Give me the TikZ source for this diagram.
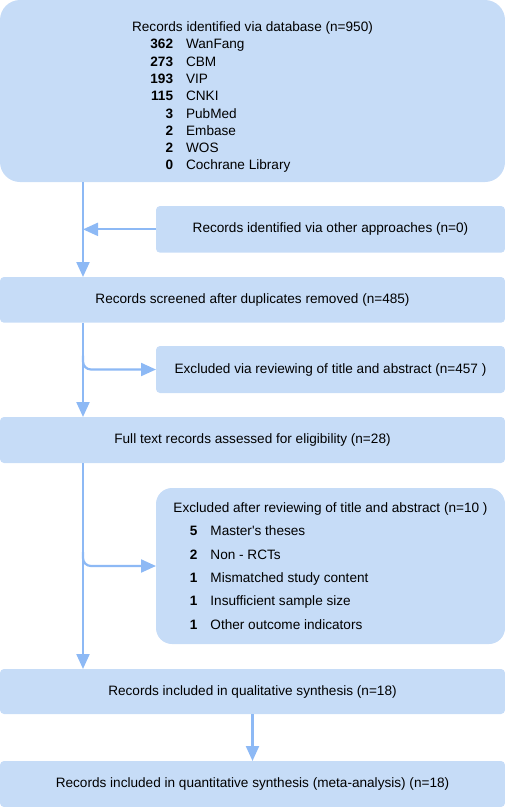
\documentclass[tikz,border=0pt]{standalone}
\usepackage{fontspec}
\setmainfont{Liberation Sans}
\usetikzlibrary{arrows.meta}
\definecolor{boxblue}{HTML}{C6DCF7}
\definecolor{flowblue}{HTML}{8DB9F5}
\newcommand{\cnt}[2]{\makebox[#1][r]{\textbf{#2}}\hspace{13pt}}
\begin{document}
\begin{tikzpicture}[x=1pt,y=-1pt,
    box/.style={fill=boxblue, rounded corners=4pt, inner sep=0pt, outer sep=0pt,
      anchor=north west, align=center, font={\fontsize{13.6}{17.3}\selectfont}},
    flow/.style={draw=flowblue, line width=2.2pt, -{Triangle[length=15pt,width=13pt]}}]
  \useasboundingbox (0,0) rectangle (505,807);
  \node[box, rounded corners=20pt, minimum width=505pt, minimum height=182pt, align=left] (db) at (0,0)
    {\rule{0pt}{22.3pt}Records identified via database (n=950)\\
     \cnt{41pt}{362}WanFang\\
     \cnt{41pt}{273}CBM\\
     \cnt{41pt}{193}VIP\\
     \cnt{41pt}{115}CNKI\\
     \cnt{41pt}{3}PubMed\\
     \cnt{41pt}{2}Embase\\
     \cnt{41pt}{2}WOS\\
     \cnt{41pt}{0}Cochrane Library};
  \node[box, minimum width=349pt, minimum height=46.7pt] (other) at (156,206)
    {Records identified via other approaches (n=0)};
  \node[box, minimum width=505pt, minimum height=45.7pt] (screened) at (0,277)
    {Records screened after duplicates removed (n=485)};
  \node[box, minimum width=349pt, minimum height=47pt] (excltitle) at (156,346)
    {Excluded via reviewing of title and abstract (n=457 )};
  \node[box, minimum width=505pt, minimum height=46pt] (fulltext) at (0,417)
    {Full text records assessed for eligibility (n=28)};
  \node[box, rounded corners=16pt, minimum width=349pt, minimum height=156pt, align=left,
      font={\fontsize{13.6}{23.3}\selectfont}] (exclfull) at (156,488)
    {Excluded after reviewing of title and abstract (n=10 )\\
     \cnt{24pt}{5}Master\textquotesingle s theses\\
     \cnt{24pt}{2}Non - RCTs\\
     \cnt{24pt}{1}Mismatched study content\\
     \cnt{24pt}{1}Insufficient sample size\\
     \cnt{24pt}{1}Other outcome indicators};
  \node[box, minimum width=505pt, minimum height=45pt] (qual) at (0,669)
    {Records included in qualitative synthesis (n=18)};
  \node[box, minimum width=505pt, minimum height=46pt] (quant) at (0,761)
    {Records included in quantitative synthesis (meta-analysis) (n=18)};
  \coordinate (trunk) at (83,0);
  \begin{scope}[flow]
    \draw (db.south -| trunk) to (screened.north -| trunk);
    \draw (other.west) to (other.west -| trunk);
    \draw (screened.south -| trunk) to (fulltext.north -| trunk);
    \draw[rounded corners=8pt] ([yshift=14pt]excltitle.west -| trunk) |- (excltitle.west);
    \draw (fulltext.south -| trunk) to (qual.north -| trunk);
    \draw[rounded corners=8pt] ([yshift=14pt]exclfull.west -| trunk) |- (exclfull.west);
    \draw (qual.south) to (quant.north);
  \end{scope}
\end{tikzpicture}
\end{document}
